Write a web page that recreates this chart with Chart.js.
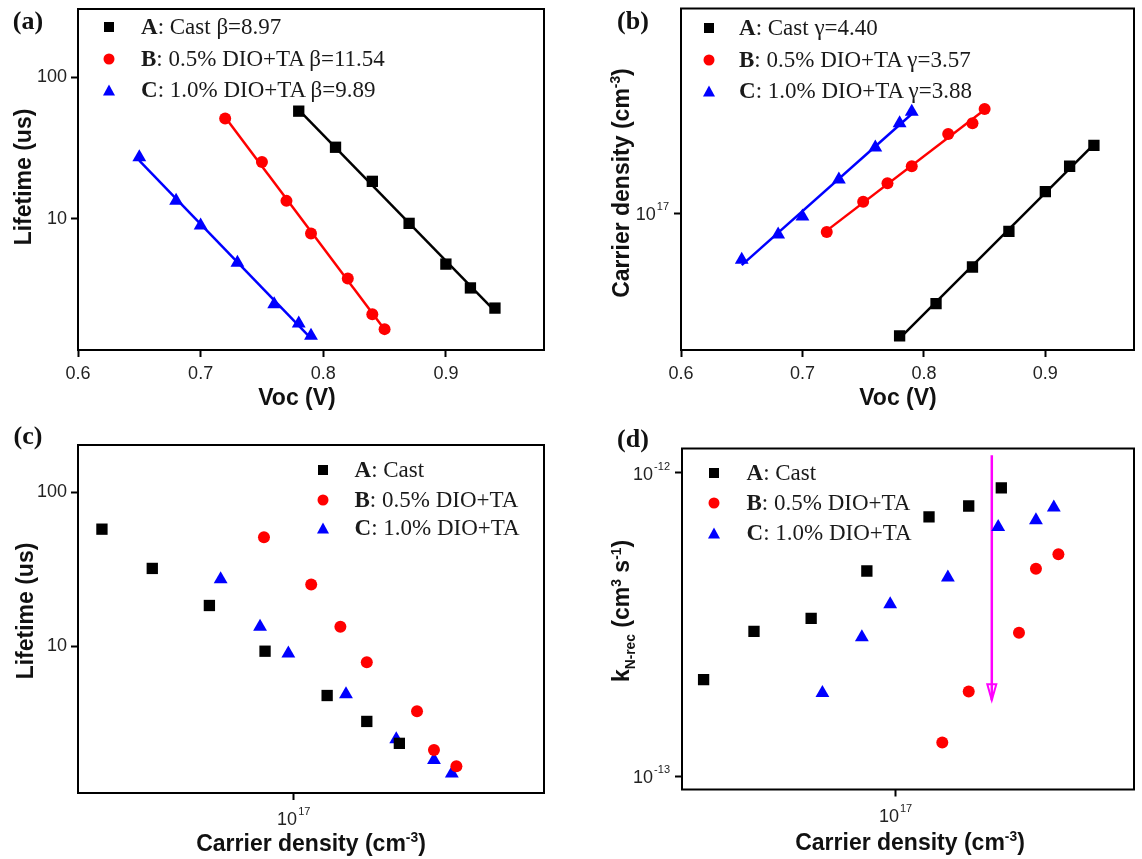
<!DOCTYPE html>
<html>
<head>
<meta charset="utf-8">
<title>Lifetime / carrier density</title>
<script src="https://cdn.jsdelivr.net/npm/chart.js@4.4.1/dist/chart.umd.min.js"></script>
<style>
  body { margin: 0; background: #fff; }
  #figure { position: relative; width: 1142px; height: 859px; overflow: hidden; }
  #figure canvas { position: absolute; }
  .txt { position: absolute; white-space: nowrap; color: #111; line-height: 1; transform: translate(-50%, -50%); }
  .panel-label { font: bold 26px "Liberation Serif", "Times New Roman", serif; }
  .axis-title { font: bold 23px "Liberation Sans", Arial, sans-serif; }
  .axis-title.vert { transform: translate(-50%, -50%) rotate(-90deg); }
  .axis-title sup, .axis-title sub { font-size: 60%; }
  .legend-row { position: absolute; white-space: nowrap; line-height: 1; transform: translateY(-50%);
    font: 23px "Liberation Serif", "Times New Roman", serif; color: #1a1a1a; }
  .mk { position: absolute; transform: translate(-50%, -50%); }
  .mk.square { width: 10px; height: 10px; background: #000; }
  .mk.circle { width: 11px; height: 11px; border-radius: 50%; background: #ff0000; }
  .mk.triangle { width: 0; height: 0; border-left: 6.5px solid transparent; border-right: 6.5px solid transparent;
    border-bottom: 11px solid #0000ff; }
</style>
</head>
<body>
<div id="figure">
  <canvas id="chartA"></canvas>
  <canvas id="chartB"></canvas>
  <canvas id="chartC"></canvas>
  <canvas id="chartD"></canvas>

  <div class="txt panel-label" style="left:28px; top:21px;">(a)</div>
  <div class="txt panel-label" style="left:633px; top:21px;">(b)</div>
  <div class="txt panel-label" style="left:28px; top:436px;">(c)</div>
  <div class="txt panel-label" style="left:633px; top:439px;">(d)</div>

  <div class="txt axis-title vert" style="left:23px; top:177px;">Lifetime (us)</div>
  <div class="txt axis-title" style="left:297px; top:397px;">Voc (V)</div>
  <div class="txt axis-title vert" style="left:621px; top:183px;">Carrier density (cm<sup>-3</sup>)</div>
  <div class="txt axis-title" style="left:898px; top:397px;">Voc (V)</div>
  <div class="txt axis-title vert" style="left:25px; top:611px;">Lifetime (us)</div>
  <div class="txt axis-title" style="left:311px; top:843px;">Carrier density (cm<sup>-3</sup>)</div>
  <div class="txt axis-title vert" style="left:623px; top:611px;">k<sub>N-rec</sub> (cm<sup>3</sup> s<sup>-1</sup>)</div>
  <div class="txt axis-title" style="left:910px; top:842px;">Carrier density (cm<sup>-3</sup>)</div>
</div>

<script>
// series A, B, C
const seriesNames = ['A', 'B', 'C'];
const seriesDesc = ['Cast', '0.5% DIO+TA', '1.0% DIO+TA'];
const betaValues = ['8.97', '11.54', '9.89'];
const gammaValues = ['4.40', '3.57', '3.88'];

// Voc (V)
const vocA = [0.78, 0.81, 0.84, 0.87, 0.90, 0.92, 0.94];
const vocB = [0.72, 0.75, 0.77, 0.79, 0.82, 0.84, 0.85];
const vocC = [0.65, 0.68, 0.70, 0.73, 0.76, 0.78, 0.79];

// lifetime (us)
const lifeA = [57.5, 32, 18.4, 9.3, 4.8, 3.26, 2.35];
const lifeB = [51, 25.2, 13.4, 7.9, 3.8, 2.13, 1.67];
const lifeC = [27.2, 13.4, 9.0, 4.9, 2.5, 1.83, 1.5];

// carrier density (cm-3)
const densA = [3.51e16, 4.62e16, 6.31e16, 8.55e16, 1.20e17, 1.49e17, 1.78e17];
const densB = [8.5e16, 1.10e17, 1.29e17, 1.49e17, 1.96e17, 2.15e17, 2.43e17];
const densC = [6.71e16, 8.32e16, 9.71e16, 1.33e17, 1.75e17, 2.15e17, 2.37e17];

// k N-rec (cm3 s-1), first two B points are off the axis
const kA = [2.08e-13, 3.0e-13, 3.31e-13, 4.74e-13, 7.14e-13, 7.76e-13, 8.9e-13];
const kB = [null, null, 1.29e-13, 1.90e-13, 2.97e-13, 4.82e-13, 5.38e-13];
const kC = [1.88e-13, 2.87e-13, 3.68e-13, 4.51e-13, 6.62e-13, 6.97e-13, 7.67e-13];

// magenta arrow in (d)
const arrowX = 1.69e17;
const arrowY = [1.14e-12, 1.78e-13];

// tick labels
const vocTicks = [0.6, 0.7, 0.8, 0.9];
const lifeTicks = [10, 100];
const densTicks = [1e17];
const kTicks = [1e-13, 1e-12];

const seriesColors = ['#000000', '#ff0000', '#0000ff'];
const seriesShapes = ['rect', 'circle', 'triangle'];
const seriesRadius = [8, 6, 8];
const markerClasses = ['square', 'circle', 'triangle'];

const tickColor = '#222';
const tickFamily = '"Liberation Sans", Arial, sans-serif';

const fig = document.getElementById('figure');

function points(xs, ys) {
  return xs.map((x, i) => ({ x, y: ys[i] })).filter((p) => p.y != null);
}

// least squares on log10(y) against x, drawn between the first and last x
function fitLine(xs, ys) {
  const n = xs.length;
  const ly = ys.map(Math.log10);
  const mx = xs.reduce((a, b) => a + b, 0) / n;
  const my = ly.reduce((a, b) => a + b, 0) / n;
  let sxy = 0;
  let sxx = 0;
  xs.forEach((x, i) => {
    sxy += (x - mx) * (ly[i] - my);
    sxx += (x - mx) * (x - mx);
  });
  const slope = sxy / sxx;
  const icpt = my - slope * mx;
  const x0 = Math.min(...xs);
  const x1 = Math.max(...xs);
  return [
    { x: x0, y: Math.pow(10, icpt + slope * x0) },
    { x: x1, y: Math.pow(10, icpt + slope * x1) },
  ];
}

function markerSet(xs, ys, i) {
  return {
    data: points(xs, ys),
    pointStyle: seriesShapes[i],
    pointRadius: seriesRadius[i],
    backgroundColor: seriesColors[i],
    borderColor: seriesColors[i],
    borderWidth: 0,
    showLine: false,
  };
}

function fitSet(xs, ys, i) {
  return {
    data: fitLine(xs, ys),
    showLine: true,
    pointRadius: 0,
    borderColor: seriesColors[i],
    borderWidth: 2.5,
  };
}

const framePlugin = {
  id: 'frame',
  afterDatasetsDraw(chart) {
    const { ctx, chartArea: a } = chart;
    ctx.save();
    ctx.strokeStyle = '#000';
    ctx.lineWidth = 2;
    ctx.strokeRect(a.left, a.top, a.right - a.left, a.bottom - a.top);
    ctx.restore();
  },
};

const arrowPlugin = {
  id: 'arrowHead',
  afterDatasetsDraw(chart) {
    chart.data.datasets.forEach((ds, i) => {
      if (!ds.arrowHead) {
        return;
      }
      const pts = chart.getDatasetMeta(i).data;
      const tip = pts[pts.length - 1];
      const ctx = chart.ctx;
      ctx.save();
      ctx.strokeStyle = ds.borderColor;
      ctx.lineWidth = 2;
      ctx.beginPath();
      ctx.moveTo(tip.x, tip.y);
      ctx.lineTo(tip.x - 4.5, tip.y - 16);
      ctx.lineTo(tip.x + 4.5, tip.y - 16);
      ctx.closePath();
      ctx.stroke();
      ctx.restore();
    });
  },
};

// "10" with a raised exponent, drawn for the power-of-ten axes
function powerLabelPlugin(xCfg, yCfg) {
  return {
    id: 'powerLabels',
    afterDraw(chart) {
      const ctx = chart.ctx;
      const area = chart.chartArea;
      [['x', xCfg], ['y', yCfg]].forEach(([key, cfg]) => {
        if (!cfg.power) {
          return;
        }
        const scale = chart.scales[key];
        cfg.ticks.forEach((v) => {
          const exp = String(Math.round(Math.log10(v)));
          const pos = scale.getPixelForValue(v);
          ctx.save();
          ctx.fillStyle = tickColor;
          ctx.textBaseline = 'alphabetic';
          ctx.font = `18px ${tickFamily}`;
          const wBase = ctx.measureText('10').width;
          ctx.font = `11px ${tickFamily}`;
          const wExp = ctx.measureText(exp).width;
          let x0;
          let base;
          if (key === 'x') {
            x0 = pos - (wBase + wExp + 1) / 2;
            base = area.bottom + 32;
          } else {
            x0 = area.left - 12 - wBase - wExp - 1;
            base = pos + 7;
          }
          ctx.font = `18px ${tickFamily}`;
          ctx.fillText('10', x0, base);
          ctx.font = `11px ${tickFamily}`;
          ctx.fillText(exp, x0 + wBase + 1, base - 10);
          ctx.restore();
        });
      });
    },
  };
}

function axisOptions(cfg, size, horizontal) {
  return {
    type: cfg.type,
    min: cfg.min,
    max: cfg.max,
    afterBuildTicks: (scale) => {
      scale.ticks = cfg.ticks.map((v) => ({ value: v }));
    },
    afterFit: (scale) => {
      if (horizontal) {
        scale.height = size;
      } else {
        scale.width = size;
      }
      // keep the plot box where it was placed, labels may overhang
      scale.paddingTop = 0;
      scale.paddingBottom = 0;
      scale.paddingLeft = 0;
      scale.paddingRight = 0;
    },
    border: { display: false },
    grid: {
      drawOnChartArea: false,
      drawTicks: true,
      tickLength: 7,
      tickWidth: 2,
      tickColor: '#000',
    },
    ticks: {
      display: !cfg.power,
      autoSkip: false,
      maxRotation: 0,
      padding: horizontal ? 6 : 4,
      color: tickColor,
      font: { family: tickFamily, size: 18 },
      callback: cfg.format,
    },
  };
}

function makePanel(id, box, plot, xCfg, yCfg, datasets) {
  const canvas = document.getElementById(id);
  canvas.width = box.w;
  canvas.height = box.h;
  canvas.style.left = box.x + 'px';
  canvas.style.top = box.y + 'px';
  canvas.style.width = box.w + 'px';
  canvas.style.height = box.h + 'px';

  new Chart(canvas, {
    type: 'scatter',
    data: { datasets },
    options: {
      responsive: false,
      animation: false,
      events: [],
      layout: {
        padding: {
          left: 0,
          top: plot.top - box.y,
          right: box.x + box.w - plot.right,
          bottom: 0,
        },
      },
      plugins: {
        legend: { display: false },
        tooltip: { enabled: false },
      },
      scales: {
        x: axisOptions(xCfg, box.y + box.h - plot.bottom, true),
        y: axisOptions(yCfg, plot.left - box.x, false),
      },
    },
    plugins: [framePlugin, arrowPlugin, powerLabelPlugin(xCfg, yCfg)],
  });
}

function addLegend(markerX, textX, rowsY, extra) {
  rowsY.forEach((y, i) => {
    const mk = document.createElement('div');
    mk.className = 'mk ' + markerClasses[i];
    mk.style.left = markerX + 'px';
    mk.style.top = y + 'px';
    fig.appendChild(mk);

    const row = document.createElement('div');
    row.className = 'legend-row';
    row.style.left = textX + 'px';
    row.style.top = y + 'px';
    row.innerHTML = `<b>${seriesNames[i]}</b>: ${seriesDesc[i]}${extra ? ' ' + extra[i] : ''}`;
    fig.appendChild(row);
  });
}

const vocFormat = (v) => v.toFixed(1);
const lifeFormat = (v) => String(v);

/* (a) lifetime vs Voc */
makePanel(
  'chartA',
  { x: 0, y: 0, w: 570, h: 420 },
  { left: 78, top: 9, right: 544, bottom: 350 },
  { type: 'linear', min: 0.6, max: 0.98, ticks: vocTicks, format: vocFormat },
  { type: 'logarithmic', min: 1.19, max: 302, ticks: lifeTicks, format: lifeFormat },
  [
    markerSet(vocA, lifeA, 0),
    markerSet(vocB, lifeB, 1),
    markerSet(vocC, lifeC, 2),
    fitSet(vocA, lifeA, 0),
    fitSet(vocB, lifeB, 1),
    fitSet(vocC, lifeC, 2),
  ],
);

/* (b) carrier density vs Voc */
makePanel(
  'chartB',
  { x: 570, y: 0, w: 572, h: 420 },
  { left: 681, top: 8.5, right: 1137, bottom: 350 },
  { type: 'linear', min: 0.6, max: 0.973, ticks: vocTicks, format: vocFormat },
  { type: 'logarithmic', min: 3.11e16, max: 5.72e17, ticks: densTicks, power: true },
  [
    markerSet(vocA, densA, 0),
    markerSet(vocB, densB, 1),
    markerSet(vocC, densC, 2),
    fitSet(vocA, densA, 0),
    fitSet(vocB, densB, 1),
    fitSet(vocC, densC, 2),
  ],
);

/* (c) lifetime vs carrier density */
makePanel(
  'chartC',
  { x: 0, y: 420, w: 570, h: 439 },
  { left: 78, top: 445, right: 544, bottom: 793 },
  { type: 'logarithmic', min: 3.08e16, max: 3.92e17, ticks: densTicks, power: true },
  { type: 'logarithmic', min: 1.12, max: 202, ticks: lifeTicks, format: lifeFormat },
  [
    markerSet(densA, lifeA, 0),
    markerSet(densB, lifeB, 1),
    markerSet(densC, lifeC, 2),
  ],
);

/* (d) recombination coefficient vs carrier density */
makePanel(
  'chartD',
  { x: 570, y: 420, w: 572, h: 439 },
  { left: 682, top: 448.5, right: 1137, bottom: 789.5 },
  { type: 'logarithmic', min: 3.12e16, max: 3.67e17, ticks: densTicks, power: true },
  { type: 'logarithmic', min: 9.04e-14, max: 1.2e-12, ticks: kTicks, power: true },
  [
    markerSet(densA, kA, 0),
    markerSet(densB, kB, 1),
    markerSet(densC, kC, 2),
    {
      data: arrowY.map((y) => ({ x: arrowX, y })),
      showLine: true,
      pointRadius: 0,
      borderColor: '#ff00ff',
      borderWidth: 2.5,
      arrowHead: true,
    },
  ],
);

addLegend(109, 141, [26.5, 59, 90], betaValues.map((v) => 'β=' + v));
addLegend(708.5, 739, [28.3, 60, 91], gammaValues.map((v) => 'γ=' + v));
addLegend(322.5, 354.5, [470, 500, 528.3]);
addLegend(714, 746.5, [473.3, 503.3, 533]);
</script>
</body>
</html>
